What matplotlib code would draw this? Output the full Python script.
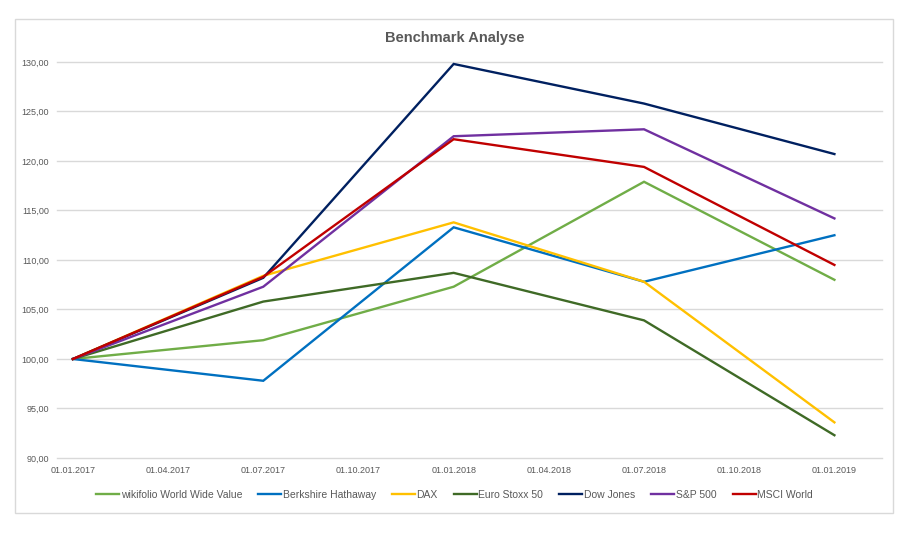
import matplotlib
matplotlib.use('Agg')
import matplotlib.pyplot as plt
from matplotlib.patches import Rectangle
from matplotlib.ticker import FuncFormatter

plt.rcParams['font.family'] = ['Liberation Sans', 'DejaVu Sans']

# months since 01.01.2017
months = [0, 6, 12, 18, 24]
tick_months = [0, 3, 6, 9, 12, 15, 18, 21, 24]
tick_labels = ['01.01.2017', '01.04.2017', '01.07.2017', '01.10.2017', '01.01.2018',
               '01.04.2018', '01.07.2018', '01.10.2018', '01.01.2019']

names = ['wikifolio World Wide Value', 'Berkshire Hathaway', 'DAX', 'Euro Stoxx 50',
         'Dow Jones', 'S&P 500', 'MSCI World']
wikifolio = [100.0, 101.9, 107.3, 117.9, 108.0]
berkshire = [100.0, 97.8, 113.3, 107.8, 112.5]
dax = [100.0, 108.4, 113.8, 107.8, 93.6]
stoxx = [100.0, 105.8, 108.7, 103.9, 92.3]
dow = [100.0, 108.2, 129.8, 125.8, 120.7]
sp500 = [100.0, 107.3, 122.5, 123.2, 114.2]
msci = [100.0, 108.3, 122.2, 119.4, 109.5]
colors = ['#70AD47', '#0070C0', '#FFC000', '#3F6A26', '#002060', '#7030A0', '#C00000']

fig = plt.figure(figsize=(9.2, 5.38), dpi=100)
fig.patches.append(Rectangle((0.0163, 0.0465), 0.954, 0.918, transform=fig.transFigure,
                             fill=False, edgecolor='#d9d9d9', linewidth=1))
ax = fig.add_axes([0.062, 0.1487, 0.8967, 0.7361])

series = [wikifolio, berkshire, dax, stoxx, dow, sp500, msci]
for vals, name, c in zip(series, names, colors):
    ax.plot(months, vals, color=c, linewidth=1.7, label=name, solid_joinstyle='miter')

ax.set_xlim(-0.5, 25.5)
ax.set_ylim(90, 130)
ax.set_yticks(range(90, 131, 5))
ax.yaxis.set_major_formatter(FuncFormatter(lambda v, p: f'{v:.2f}'.replace('.', ',')))
ax.set_xticks(tick_months)
ax.set_xticklabels(tick_labels)
ax.tick_params(length=0, labelsize=6.5, labelcolor='#595959', pad=6)
ax.grid(axis='y', color='#d9d9d9', linewidth=1)
for gl in ax.get_ygridlines():
    gl.set_clip_on(False)
ax.set_axisbelow(True)
for s in ax.spines.values():
    s.set_visible(False)

fig.text(0.494, 1 - 38 / 538, 'Benchmark Analyse', ha='center', va='center',
         fontsize=10.5, fontweight='bold', color='#595959')

fig.legend(loc='center', bbox_to_anchor=(0.494, 1 - 495 / 538), ncol=7, frameon=False,
           fontsize=7.5, handlelength=2.2, handletextpad=0.15, columnspacing=1.55,
           labelcolor='#595959')

fig.savefig('out.png', dpi=100)
